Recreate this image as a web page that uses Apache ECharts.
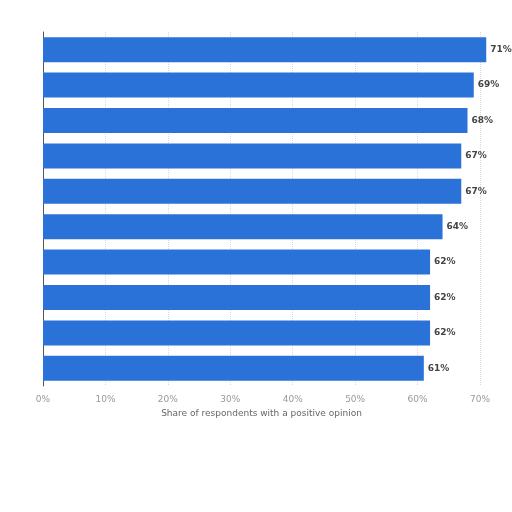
<!DOCTYPE html>
<html>
<head>
<meta charset="utf-8">
<script src="https://cdn.jsdelivr.net/npm/echarts@6/dist/echarts.min.js"></script>
<style>
  html, body { margin: 0; padding: 0; background: #fff; }
  #main { width: 512px; height: 512px; }
</style>
</head>
<body>
<div id="main"></div>
<script>
// category names are not shown in the picture, only the bars
var categories = ['1', '2', '3', '4', '5', '6', '7', '8', '9', '10'];
var values = [71, 69, 68, 67, 67, 64, 62, 62, 62, 61];
var xTicks = [0, 10, 20, 30, 40, 50, 60, 70];

var myChart = echarts.init(document.getElementById('main'));

var option = {
    backgroundColor: '#ffffff',
    grid: {
        left: 43,
        right: 32,
        top: 32,
        bottom: 126
    },
    xAxis: {
        type: 'value',
        min: xTicks[0],
        max: xTicks[xTicks.length - 1],
        interval: 10,
        name: 'Share of respondents with a positive opinion',
        nameLocation: 'middle',
        nameGap: 20,
        nameTextStyle: { color: '#666', fontSize: 9, fontFamily: 'DejaVu Sans' },
        axisLine: { show: false },
        axisTick: { show: false },
        axisLabel: {
            color: '#999',
            fontSize: 9,
            fontFamily: 'DejaVu Sans',
            formatter: '{value}%',
            margin: 9
        },
        splitLine: {
            show: true,
            lineStyle: { color: '#d8d8d8', type: 'dotted', width: 1 }
        }
    },
    yAxis: {
        type: 'category',
        data: categories,
        inverse: true,
        axisLine: { show: true, lineStyle: { color: '#555', width: 1 } },
        axisTick: { show: false },
        axisLabel: { show: false }
    },
    series: [
        {
            type: 'bar',
            data: values,
            clip: false,
            barWidth: 25,
            itemStyle: { color: '#2a72d8' },
            label: {
                show: true,
                position: 'right',
                distance: 4,
                formatter: '{c}%',
                color: '#444',
                fontSize: 9,
                fontWeight: 'bold',
                fontFamily: 'DejaVu Sans'
            }
        }
    ]
};

myChart.setOption(option);
</script>
</body>
</html>
